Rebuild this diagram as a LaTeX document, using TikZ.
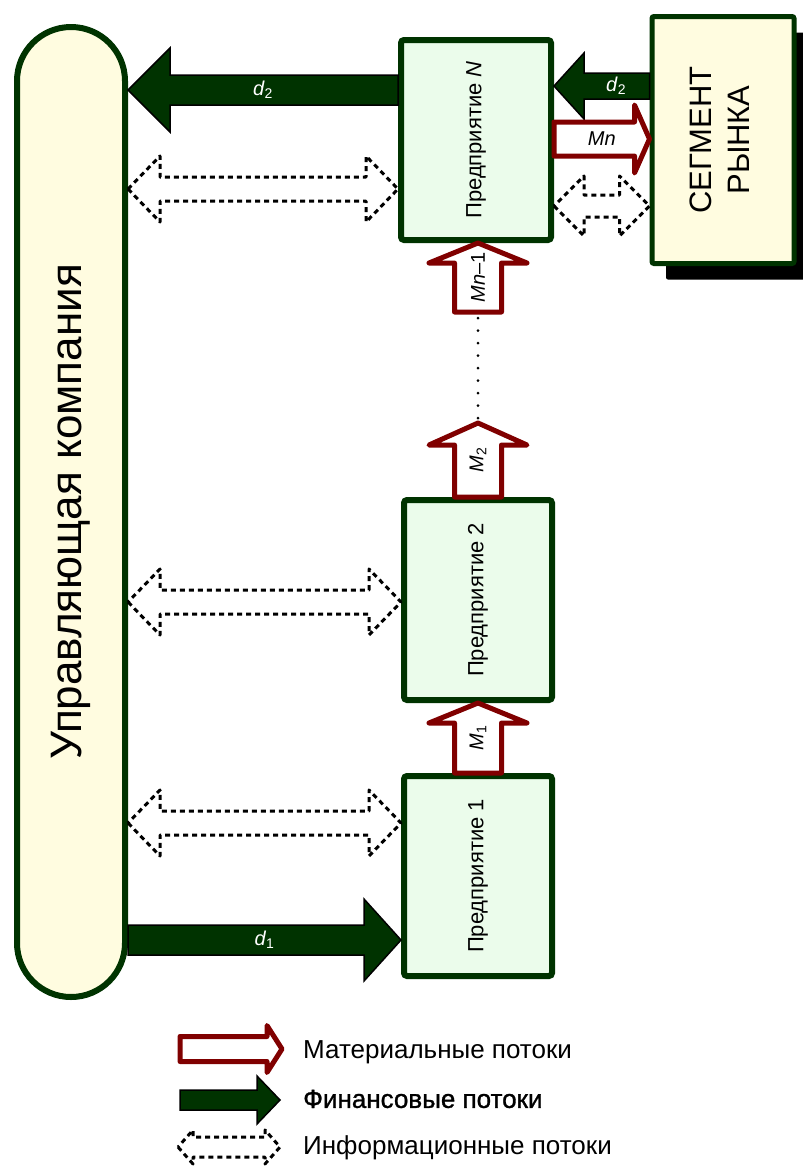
\documentclass[tikz,border=0pt]{standalone}
\usepackage{fontspec}
\setmainfont{Liberation Sans}
\newfontfamily\heavyfont[FakeBold=1.2]{Liberation Sans}
\usepackage{graphicx}
\usepackage{xcolor}
\definecolor{darkgreen}{rgb}{0.0,0.2,0.0}
\definecolor{darkred}{rgb}{0.5,0.0,0.0}
\definecolor{lightgreen}{rgb}{0.92,0.99,0.92}
\definecolor{lightyellow}{rgb}{1.0,0.99,0.88}
\usetikzlibrary{calc,shadows}

% block arrows drawn between two points
\tikzset{
  shaftw/.store in=\shaftw, headw/.store in=\headw, headl/.store in=\headl,
  shaftw=15, headw=40, headl=40,
  single block/.style={to path={let \p1=($(\tikztotarget)-(\tikztostart)$),
      \n1={atan2(\y1,\x1)}, \n2={veclen(\x1,\y1)} in
    ([shift={(\tikztostart)},rotate=\n1]0,\shaftw)
    -- ([shift={(\tikztostart)},rotate=\n1]\n2-\headl,\shaftw)
    -- ([shift={(\tikztostart)},rotate=\n1]\n2-\headl,\headw)
    -- ([shift={(\tikztostart)},rotate=\n1]\n2,0)
    -- ([shift={(\tikztostart)},rotate=\n1]\n2-\headl,-\headw)
    -- ([shift={(\tikztostart)},rotate=\n1]\n2-\headl,-\shaftw)
    -- ([shift={(\tikztostart)},rotate=\n1]0,-\shaftw) -- cycle}},
  double block/.style={to path={let \p1=($(\tikztotarget)-(\tikztostart)$),
      \n1={atan2(\y1,\x1)}, \n2={veclen(\x1,\y1)} in
    ([shift={(\tikztostart)},rotate=\n1]0,0)
    -- ([shift={(\tikztostart)},rotate=\n1]\headl,\headw)
    -- ([shift={(\tikztostart)},rotate=\n1]\headl,\shaftw)
    -- ([shift={(\tikztostart)},rotate=\n1]\n2-\headl,\shaftw)
    -- ([shift={(\tikztostart)},rotate=\n1]\n2-\headl,\headw)
    -- ([shift={(\tikztostart)},rotate=\n1]\n2,0)
    -- ([shift={(\tikztostart)},rotate=\n1]\n2-\headl,-\headw)
    -- ([shift={(\tikztostart)},rotate=\n1]\n2-\headl,-\shaftw)
    -- ([shift={(\tikztostart)},rotate=\n1]\headl,-\shaftw)
    -- ([shift={(\tikztostart)},rotate=\n1]\headl,-\headw) -- cycle}},
  finflow/.style={single block, fill=darkgreen, draw=black, line width=1.5pt},
  matflow/.style={single block, fill=white, draw=darkred, line width=5pt, line join=round},
  infoflow/.style={double block, draw=black, line width=3pt, dash pattern=on 5pt off 4pt, line join=round},
  firm/.style={draw=darkgreen, fill=lightgreen, line width=6pt, rounded corners=3pt,
    minimum width=148pt, minimum height=200pt, font=\fontsize{22}{26}\selectfont},
  flowlabel/.style={inner sep=0pt, font=\fontsize{20}{24}\selectfont},
  legendtext/.style={anchor=west, inner sep=0pt, font=\fontsize{26}{30}\selectfont},
}

\begin{document}
\begin{tikzpicture}[x=1pt, y=-1pt]
  \useasboundingbox (0,0) rectangle (803,1168);

  % Management company and enterprises
  \node[draw=darkgreen, fill=lightyellow, line width=6pt, rounded corners=54pt,
    minimum width=108pt, minimum height=970pt, font=\fontsize{44}{52}\selectfont]
    (mgmt) at (71,512) {\rotatebox{90}{Управляющая компания}};
  \node[firm, minimum width=150pt] (firmN) at (476,140) {\rotatebox{90}{Предприятие \textit{N}}};
  \node[firm] (firm2) at (478,600) {\rotatebox{90}{Предприятие 2}};
  \node[firm] (firm1) at (478,876) {\rotatebox{90}{Предприятие 1}};

  % Market segment
  \node[draw=darkgreen, fill=lightyellow, line width=5pt, rounded corners=2pt,
    minimum width=142pt, minimum height=247pt, font=\fontsize{31}{38}\selectfont,
    general shadow={fill=black, shadow xshift=14pt, shadow yshift=-16pt}]
    (market) at (723,140) {\rotatebox{90}{\begin{tabular}{@{}c@{}}СЕГМЕНТ\\РЫНКА\end{tabular}}};

  % Financial flows
  \draw[finflow, shaftw=15, headw=42, headl=42] (firmN.west |- 0,90) to (mgmt.east |- 0,90);
  \path (firmN.west |- 0,90) -- node[flowlabel, text=white] {\textit{d}\textsubscript{2}} (mgmt.east |- 0,90);
  \draw[finflow, shaftw=13, headw=33, headl=30] (market.west |- 0,86) to (firmN.east |- 0,86);
  \path (market.west |- 0,86) -- node[flowlabel, text=white, pos=0.35] {\textit{d}\textsubscript{2}} (firmN.east |- 0,86);
  \draw[finflow, shaftw=15, headw=41, headl=37] (mgmt.east |- 0,940) to (firm1.west |- 0,940);
  \path (mgmt.east |- 0,940) -- node[flowlabel, text=white] {\textit{d}\textsubscript{1}} (firm1.west |- 0,940);

  % Material flows
  \coordinate (m2tip) at (478,423);
  \coordinate (mn1tail) at (478,312);
  \draw[matflow, shaftw=17, headw=34, headl=15] (firmN.east |- 0,139) to (market.west |- 0,139);
  \path (firmN.east |- 0,139) -- node[flowlabel] {\textit{Mn}} (market.west |- 0,139);
  \draw[matflow, shaftw=23.5, headw=49, headl=20] (firm1.north) to (firm2.south);
  \path (firm1.north) -- node[flowlabel, rotate=90] {\textit{M}\textsubscript{1}} (firm2.south);
  \draw[matflow, shaftw=23.5, headw=49, headl=22] (firm2.north) to (m2tip);
  \path (firm2.north) -- node[flowlabel, rotate=90] {\textit{M}\textsubscript{2}} (m2tip);
  \draw[matflow, shaftw=23.5, headw=49, headl=20] (mn1tail) to (mn1tail |- firmN.south);
  \path (mn1tail) -- node[flowlabel, rotate=90] {\textit{Mn}–1} (mn1tail |- firmN.south);
  \draw[line width=3pt, line cap=round, dash pattern=on 0pt off 12.5pt]
    ([yshift=5pt]m2tip) -- ([yshift=-6pt]mn1tail);

  % Information flows
  \draw[infoflow, shaftw=12, headw=33, headl=32] (mgmt.east |- 0,189) to (firmN.west |- 0,189);
  \draw[infoflow, shaftw=12, headw=33, headl=32] (mgmt.east |- 0,602) to (firm2.west |- 0,602);
  \draw[infoflow, shaftw=12, headw=33, headl=32] (mgmt.east |- 0,823) to (firm1.west |- 0,823);
  \draw[infoflow, shaftw=11, headw=30, headl=30] (firmN.east |- 0,206) to (market.west |- 0,206);

  % Legend
  \coordinate (lmat1) at (180,1049);
  \coordinate (lmat2) at (282,1049);
  \coordinate (lfin1) at (180,1100);
  \coordinate (lfin2) at (280,1100);
  \coordinate (linf1) at (178,1147);
  \coordinate (linf2) at (280,1147);
  \draw[matflow, shaftw=12.5, headw=23.5, headl=15] (lmat1) to (lmat2);
  \draw[finflow, shaftw=10, headw=24, headl=23] (lfin1) to (lfin2);
  \draw[infoflow, shaftw=10, headw=17, headl=15] (linf1) to (linf2);
  \node[legendtext] (tmat) at (303,1052) {Материальные потоки};
  \node[legendtext] (tfin) at (303,1099) {\heavyfont Финансовые потоки};
  \node[legendtext] (tinf) at (303,1148) {Информационные потоки};
\end{tikzpicture}
\end{document}
